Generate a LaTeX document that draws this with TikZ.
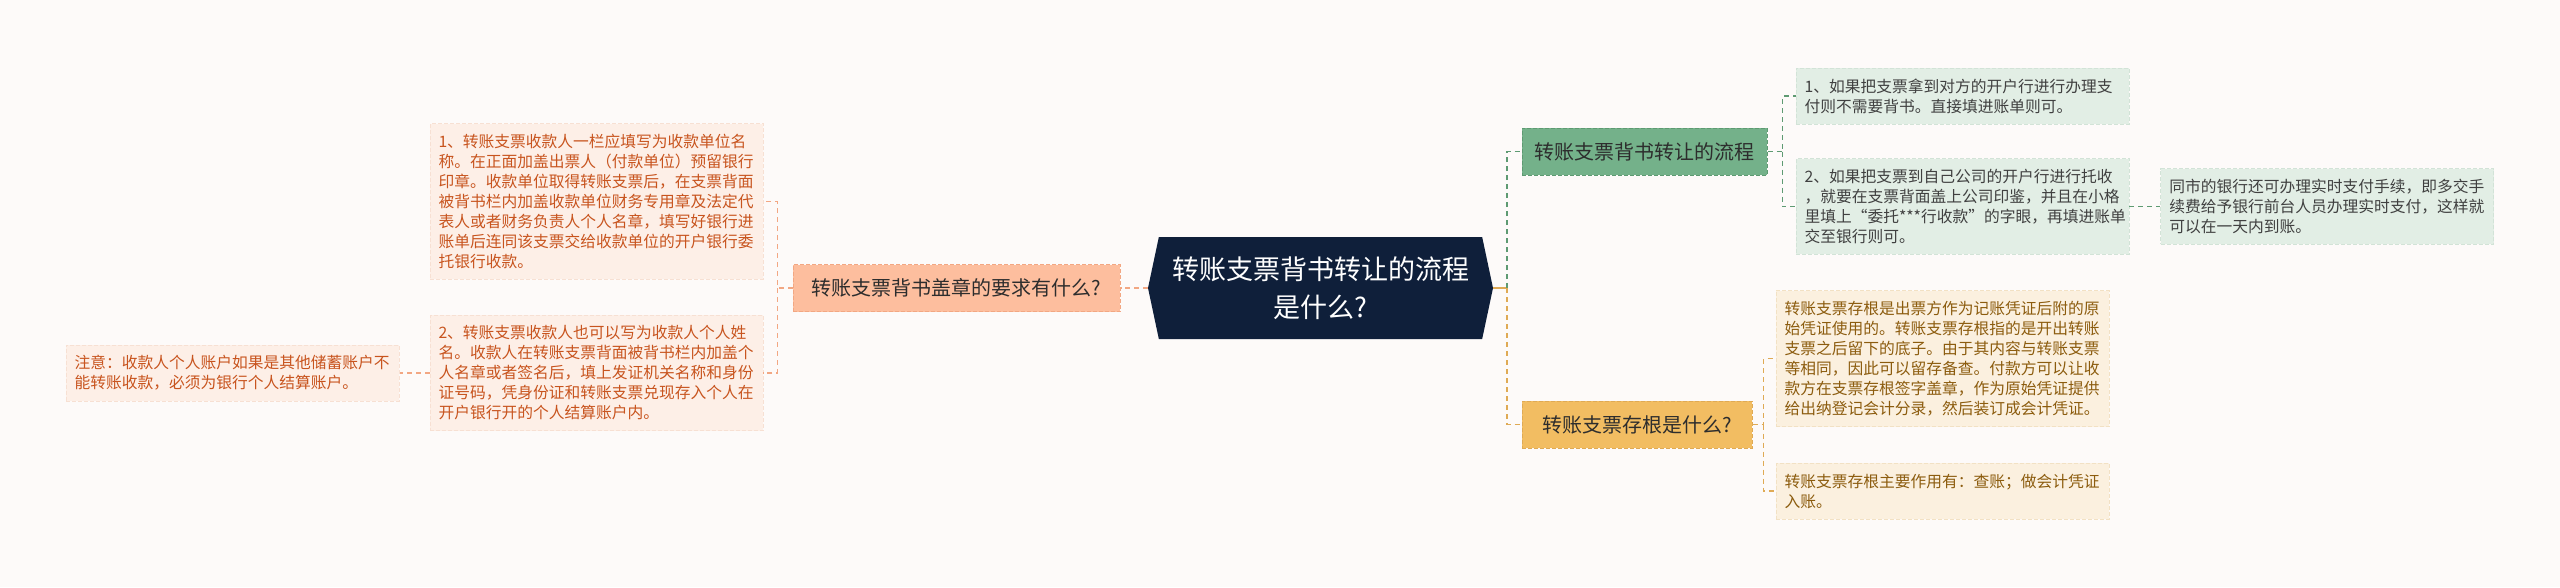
\documentclass[tikz,border=0pt]{standalone}
\usepackage{fontspec}
\setmainfont{Noto Sans CJK SC}
\usetikzlibrary{shapes.symbols, positioning}

\definecolor{bgcol}{HTML}{FDFAF9}
\definecolor{rootnavy}{HTML}{0F1F3A}
\definecolor{textdark}{HTML}{2D2D2D}
\definecolor{peachfill}{HTML}{FDBE9E}
\definecolor{peachline}{HTML}{F2A783}
\definecolor{peachleaf}{HTML}{FDEFE7}
\definecolor{peachedge}{HTML}{F7E0D3}
\definecolor{peachtext}{HTML}{C8541E}
\definecolor{greenfill}{HTML}{74B18A}
\definecolor{greenline}{HTML}{5E9A72}
\definecolor{greenleaf}{HTML}{E2EEE5}
\definecolor{greenedge}{HTML}{D2E3D7}
\definecolor{greentext}{HTML}{404040}
\definecolor{goldfill}{HTML}{F2BD62}
\definecolor{goldline}{HTML}{DFAA55}
\definecolor{goldleaf}{HTML}{FBF0DF}
\definecolor{goldedge}{HTML}{F2E1C4}
\definecolor{goldtext}{HTML}{8C5C0E}

\begin{document}
\begin{tikzpicture}[
    x=1pt, y=-1pt,
    font=\fontsize{15.75}{20}\selectfont,
    root/.style={signal, signal to=east and west, signal pointer angle=156, fill=rootnavy, text=white, minimum width=345pt, minimum height=102pt, inner sep=0pt, align=center, font=\fontsize{27}{38}\selectfont},
    branch/.style={rectangle, dash pattern=on 4pt off 2pt, line width=1pt, minimum height=47pt, inner xsep=0pt, text=textdark, font=\fontsize{20}{24}\selectfont},
    leaf/.style={rectangle, dash pattern=on 4pt off 2pt, line width=0.8pt, text width=316pt, align=left, inner xsep=8.5pt, inner ysep=10.5pt},
    reqbranch/.style={branch, fill=peachfill, draw=peachline},
    reqleaf/.style={leaf, fill=peachleaf, draw=peachedge, text=peachtext},
    flowbranch/.style={branch, fill=greenfill, draw=greenline},
    flowleaf/.style={leaf, fill=greenleaf, draw=greenedge, text=greentext},
    stubbranch/.style={branch, fill=goldfill, draw=goldline},
    stubleaf/.style={leaf, fill=goldleaf, draw=goldedge, text=goldtext},
    link/.style={line width=1.5pt, dash pattern=on 5pt off 4pt}
]

\fill[bgcol, use as bounding box] (0,0) rectangle (2560,587);

\node[root] (root) at (1320.5,288) {转账支票背书转让的流程\\是什么?};

% left branch
\node[reqbranch, minimum width=327pt] (req) at (956.5,288) {转账支票背书盖章的要求有什么?};
\node[reqleaf] (req1) at (596.5,201.5) {1、转账支票收款人一栏应填写为收款单位名\\称。在正面加盖出票人（付款单位）预留银行\\印章。收款单位取得转账支票后，在支票背面\\被背书栏内加盖收款单位财务专用章及法定代\\表人或者财务负责人个人名章，填写好银行进\\账单后连同该支票交给收款单位的开户银行委\\托银行收款。};
\node[reqleaf, below=35pt of req1] (req2) {2、转账支票收款人也可以写为收款人个人姓\\名。收款人在转账支票背面被背书栏内加盖个\\人名章或者签名后，填上发证机关名称和身份\\证号码，凭身份证和转账支票兑现存入个人在\\开户银行开的个人结算账户内。};
\node[reqleaf, left=30pt of req2] (note) {注意：收款人个人账户如果是其他储蓄账户不\\能转账收款，必须为银行个人结算账户。};

% right upper branch
\node[flowbranch, minimum width=245pt] (flow) at (1644.5,151.5) {转账支票背书转让的流程};
\node[flowleaf] (flow1) at (1962.5,96) {1、如果把支票拿到对方的开户行进行办理支\\付则不需要背书。直接填进账单则可。};
\node[flowleaf, below=34pt of flow1] (flow2) {2、如果把支票到自己公司的开户行进行托收\\，就要在支票背面盖上公司印鉴，并且在小格\\里填上“委托***行收款”的字眼，再填进账单\\交至银行则可。};
\node[flowleaf, right=31pt of flow2] (flow3) {同市的银行还可办理实时支付手续，即多交手\\续费给予银行前台人员办理实时支付，这样就\\可以在一天内到账。};

% right lower branch
\node[stubbranch, minimum width=230pt] (stub) at (1637,424.5) {转账支票存根是什么?};
\node[stubleaf] (stub1) at (1942.5,358.5) {转账支票存根是出票方作为记账凭证后附的原\\始凭证使用的。转账支票存根指的是开出转账\\支票之后留下的底子。由于其内容与转账支票\\等相同，因此可以留存备查。付款方可以让收\\款方在支票存根签字盖章，作为原始凭证提供\\给出纳登记会计分录，然后装订成会计凭证。};
\node[stubleaf, below=36pt of stub1] (stub2) {转账支票存根主要作用有：查账；做会计凭证\\入账。};

% connectors
\draw[link, draw=peachline] (root.west) -- (req.east);
\draw[link, draw=peachline] (req.west) -- ([xshift=-15pt]req.west) |- (req1.east);
\draw[link, draw=peachline] ([xshift=-15pt]req.west) |- (req2.east);
\draw[link, draw=peachline] (req2.west) -- (note.east);

\draw[line width=1.5pt, draw=goldline] (root.east) -- ([xshift=14pt]root.east);
\draw[link, draw=greenline] ([xshift=14pt]root.east) |- (flow.west);
\draw[link, draw=goldline] ([xshift=14pt]root.east) |- (stub.west);

\draw[link, draw=greenline] (flow.east) -- ([xshift=15pt]flow.east) |- (flow1.west);
\draw[link, draw=greenline] ([xshift=15pt]flow.east) |- (flow2.west);
\draw[link, draw=greenline] (flow2.east) -- (flow3.west);

\draw[link, draw=goldline] (stub.east) -- ([xshift=11pt]stub.east) |- (stub1.west);
\draw[link, draw=goldline] ([xshift=11pt]stub.east) |- (stub2.west);

\end{tikzpicture}
\end{document}
